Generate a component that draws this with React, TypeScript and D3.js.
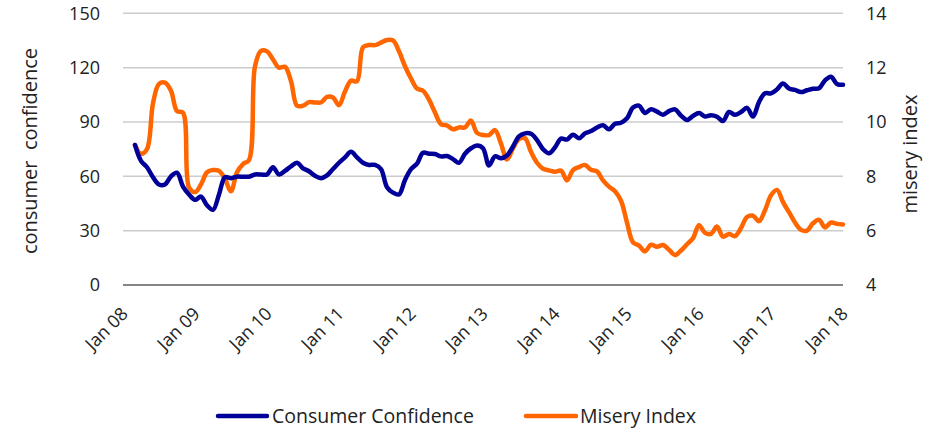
import React from "react";
import * as d3 from "d3";

// months since Jan 2008, first observation Mar 2008 (index 2) to Jan 2018 (index 120)
const startMonth = 2;
const consumerConfidence = [
  77.3, 68.5, 65, 59.5, 55.5, 55.5, 60, 62, 54.3, 50,
  47, 48.8, 44, 41.5, 50, 59.5, 59, 59.8, 59.8, 59.8,
  61, 61, 61, 65, 61, 63, 65.5, 67.5, 64.4, 62.8,
  60.3, 59, 60.5, 64, 67.5, 70.5, 73.5, 70.5, 67.5, 66.3,
  66.3, 64, 54, 51, 50, 58, 64, 67, 73, 72.5,
  72.3, 71, 71.2, 69.5, 67.5, 72.5, 75.5, 77, 75.5, 66,
  71, 70, 71.5, 76.5, 82, 83.7, 83.5, 80, 75, 72.7,
  76, 80.8, 80.3, 83, 81, 83.7, 85, 87, 88.2, 86,
  89, 89.6, 92, 98, 99, 95, 97, 95.7, 94, 96,
  97, 93.5, 91.1, 93.3, 95, 93, 93.7, 92.9, 90.5, 95.5,
  94, 95.5, 97.8, 93, 101, 105.8, 105.8, 108, 111.3, 108.5,
  107.7, 106.5, 107.5, 108.3, 108.6, 113, 115, 111, 110.5,
];
const miseryIndex = [
  9.15, 8.83, 9.0, 10.69, 11.4, 11.45, 11.15, 10.4, 10.34, 7.6,
  7.42, 7.7, 8.15, 8.23, 8.2, 7.9, 7.45, 8.15, 8.45, 8.6,
  12.05, 12.62, 12.6, 12.3, 12.0, 12.03, 11.5, 10.6, 10.6, 10.73,
  10.72, 10.72, 10.92, 10.9, 10.62, 11.12, 11.52, 11.5, 12.75, 12.83,
  12.83, 12.92, 13.02, 13.0, 12.6, 12.05, 11.6, 11.23, 11.15, 10.82,
  10.35, 9.92, 9.87, 9.73, 9.8, 9.8, 10.05, 9.6, 9.52, 9.52,
  9.7, 9.2, 8.62, 9.03, 9.37, 9.4, 8.9, 8.5, 8.28, 8.22,
  8.17, 8.21, 7.85, 8.23, 8.34, 8.42, 8.24, 8.18, 7.85, 7.62,
  7.45, 7.1, 6.3, 5.57, 5.45, 5.24, 5.48, 5.41, 5.47, 5.3,
  5.1, 5.27, 5.5, 5.72, 6.2, 5.92, 5.88, 6.15, 5.78, 5.88,
  5.8, 6.1, 6.5, 6.55, 6.35, 6.75, 7.3, 7.5, 7.05, 6.68,
  6.3, 6.03, 6.0, 6.27, 6.4, 6.12, 6.3, 6.25, 6.23,
];
const xTickLabels = ["Jan 08", "Jan 09", "Jan 10", "Jan 11", "Jan 12", "Jan 13", "Jan 14", "Jan 15", "Jan 16", "Jan 17", "Jan 18"];
const leftTicks = [0, 30, 60, 90, 120, 150];
const rightTicks = [4, 6, 8, 10, 12, 14];
const seriesNames = ["Consumer Confidence", "Misery Index"];

const W = 936, H = 428;
const left = 123, right = 843, top = 13.3, bottom = 285;
const BLUE = "#000099";
const ORANGE = "#FF6600";
const FONT = "'Open Sans', 'Noto Sans', sans-serif";

export default function App() {
  const x = d3.scaleLinear().domain([0, 120]).range([left, right]);
  const yL = d3.scaleLinear().domain([0, 150]).range([bottom, top]);
  const yR = d3.scaleLinear().domain([4, 14]).range([bottom, top]);

  const ccLine = d3.line<number>()
    .x((_, i) => x(startMonth + i))
    .y((d) => yL(d))
    .curve(d3.curveCatmullRom.alpha(0.5));
  const miLine = d3.line<number>()
    .x((_, i) => x(startMonth + i))
    .y((d) => yR(d))
    .curve(d3.curveCatmullRom.alpha(0.5));

  return (
    <svg width={W} height={H} style={{ position: "absolute", left: 0, top: 0, background: "#fff" }} fontFamily={FONT}>
      {leftTicks.map((t) => (
        <line key={"g" + t} x1={left} x2={right} y1={yL(t)} y2={yL(t)}
          stroke={t === 0 ? "#858585" : "#cccccc"} strokeWidth={t === 0 ? 2 : 1.5} />
      ))}
      {leftTicks.map((t) => (
        <text key={"l" + t} x={100} y={yL(t)} dy="0.35em" textAnchor="end" fontSize={18} fill="#222">{t}</text>
      ))}
      {rightTicks.map((t) => (
        <text key={"r" + t} x={866} y={yR(t)} dy="0.35em" textAnchor="start" fontSize={18} fill="#222">{t}</text>
      ))}
      <text transform={`translate(37,151) rotate(-90)`} textAnchor="middle" fontSize={20} fill="#222" style={{ whiteSpace: "pre" }}>{"consumer  confidence"}</text>
      <text transform={`translate(917,154) rotate(-90)`} textAnchor="middle" fontSize={20} fill="#222">misery index</text>
      {xTickLabels.map((lab, i) => (
        <text key={lab} transform={`translate(${x(i * 12) + 6},${315}) rotate(-45)`} textAnchor="end" fontSize={18} fill="#222">{lab}</text>
      ))}
      <path d={miLine(miseryIndex) || ""} fill="none" stroke={ORANGE} strokeWidth={4.5} strokeLinejoin="round" strokeLinecap="round" />
      <path d={ccLine(consumerConfidence) || ""} fill="none" stroke={BLUE} strokeWidth={4.5} strokeLinejoin="round" strokeLinecap="round" />
      <line x1={218} x2={267} y1={416} y2={416} stroke={BLUE} strokeWidth={4.5} strokeLinecap="round" />
      <text x={272} y={416} dy="0.35em" fontSize={19.5} fill="#222">{seriesNames[0]}</text>
      <line x1={526} x2={576} y1={416} y2={416} stroke={ORANGE} strokeWidth={4.5} strokeLinecap="round" />
      <text x={580} y={416} dy="0.35em" fontSize={19.5} fill="#222">{seriesNames[1]}</text>
    </svg>
  );
}
